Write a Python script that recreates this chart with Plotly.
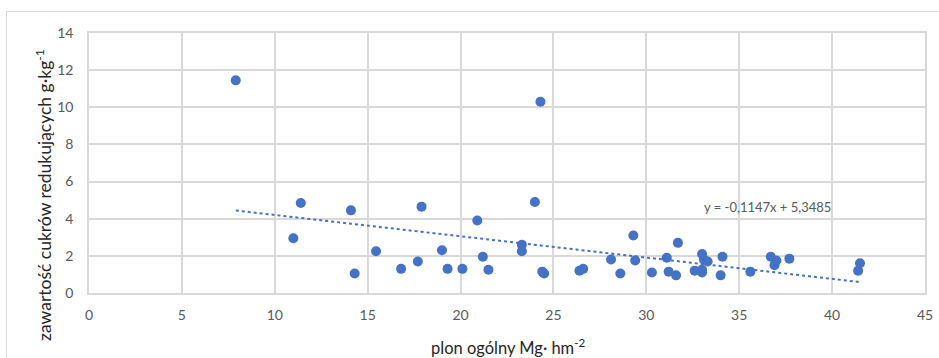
import plotly.graph_objects as go

# data
plon = [7.9, 11.0, 11.4, 14.1, 14.3, 15.45, 16.8, 17.7, 17.9, 19.0, 19.3, 20.1, 20.9, 21.2, 21.5,
        23.3, 23.3, 24.0, 24.3, 24.4, 24.5, 26.4, 26.6, 28.1, 28.6, 29.3, 29.4, 30.3, 31.1, 31.2,
        31.6, 31.7, 32.6, 33.0, 33.0, 33.0, 33.1, 33.3, 34.0, 34.1, 35.6, 36.7, 36.9, 37.0, 37.7,
        41.4, 41.5]
cukry = [11.45, 2.95, 4.85, 4.45, 1.05, 2.25, 1.3, 1.7, 4.65, 2.3, 1.3, 1.3, 3.9, 1.95, 1.25,
         2.6, 2.25, 4.9, 10.3, 1.15, 1.05, 1.2, 1.3, 1.8, 1.05, 3.1, 1.75, 1.1, 1.9, 1.15,
         0.95, 2.7, 1.2, 1.25, 1.1, 2.1, 1.8, 1.7, 0.95, 1.95, 1.15, 1.95, 1.5, 1.75, 1.85,
         1.2, 1.6]
slope = -0.1147
intercept = 5.3485
x_ticks = [0, 5, 10, 15, 20, 25, 30, 35, 40, 45]
y_ticks = [0, 2, 4, 6, 8, 10, 12, 14]
equation = "y = -0,1147x + 5,3485"

FONT = "Lato"
BLUE = "#4472C4"
GRID = "#d9d9d9"
TICK = "#595959"

trend_x = [min(plon), max(plon)]
trend_y = [slope * v + intercept for v in trend_x]

fig = go.Figure()
fig.add_trace(go.Scatter(x=trend_x, y=trend_y, mode="lines",
                         line=dict(color=BLUE, width=2, dash="dot"), hoverinfo="skip"))
fig.add_trace(go.Scatter(x=plon, y=cukry, mode="markers",
                         marker=dict(color=BLUE, size=10)))

W, H = 939, 358
L, R, T, B = 89, 14, 33, 65
pw, ph = W - L - R, H - T - B

def px_x(p):
    return (p - L) / pw

def px_y(p):
    return (H - B - p) / ph

fig.update_layout(
    width=W, height=H, autosize=False,
    margin=dict(l=L, r=R, t=T, b=B, pad=0, autoexpand=False),
    paper_bgcolor="white", plot_bgcolor="white",
    showlegend=False,
    font=dict(family=FONT, size=14, color=TICK),
    xaxis=dict(range=[0, 45], tickvals=x_ticks, showgrid=True, gridcolor=GRID, gridwidth=1.5,
               zeroline=False, showline=True, linecolor=GRID, linewidth=1.5, mirror=True,
               automargin=False,
               ticks="", ticklabelstandoff=8, tickfont=dict(family=FONT, size=14, color=TICK)),
    yaxis=dict(range=[0, 14], tickvals=y_ticks, showgrid=True, gridcolor=GRID, gridwidth=1.5,
               zeroline=False, showline=True, linecolor=GRID, linewidth=1.5, mirror=True,
               automargin=False,
               ticks="", ticklabelstandoff=11, tickfont=dict(family=FONT, size=14, color=TICK)),
    annotations=[
        dict(x=36.5, y=4.62, xref="x", yref="y", text=equation, showarrow=False,
             xanchor="center", yanchor="middle",
             font=dict(family=FONT, size=13, color=TICK)),
        dict(x=px_x(508), y=px_y(347), xref="paper", yref="paper",
             xanchor="center", yanchor="middle",
             text="plon ogólny Mg· hm<sup>-2</sup>", showarrow=False,
             font=dict(family=FONT, size=16.5, color="#262626")),
        dict(x=px_x(43), y=px_y(195), xref="paper", yref="paper", textangle=-90,
             xanchor="center", yanchor="middle",
             text="zawartość cukrów redukujących g·kg<sup>-1</sup>", showarrow=False,
             font=dict(family=FONT, size=17.5, color="#262626")),
    ],
    shapes=[
        dict(type="rect", xref="paper", yref="paper",
             x0=px_x(6.5), x1=px_x(960), y0=px_y(380), y1=px_y(11.5),
             line=dict(color=GRID, width=1), fillcolor="rgba(0,0,0,0)", layer="below"),
    ],
)

fig.write_html("out.html", config={"responsive": False})
